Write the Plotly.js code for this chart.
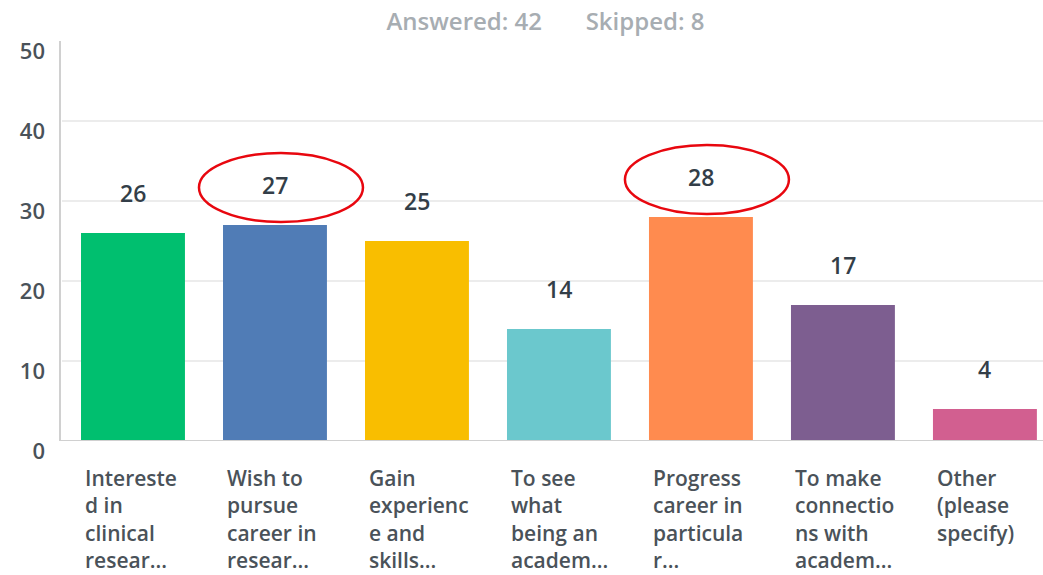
<!DOCTYPE html>
<html>
<head>
<meta charset="utf-8">
<script src="https://cdn.plot.ly/plotly-3.0.1.min.js"></script>
<style>html,body{margin:0;padding:0;background:#fff;}#chart{width:1043px;height:575px;}</style>
</head>
<body>
<div id="chart"></div>
<script>
const categories = [
  "Intereste<br>d in<br>clinical<br>resear...",
  "Wish to<br>pursue<br>career in<br>resear...",
  "Gain<br>experienc<br>e and<br>skills...",
  "To see<br>what<br>being an<br>academ...",
  "Progress<br>career in<br>particula<br>r...",
  "To make<br>connectio<br>ns with<br>academ...",
  "Other<br>(please<br>specify)"
];
const values = [26, 27, 25, 14, 28, 17, 4];
const colors = ["#00BF6F", "#507CB6", "#F9BE00", "#6BC8CD", "#FF8B4F", "#7D5E90", "#D25F90"];
const yTicks = [0, 10, 20, 30, 40, 50];
const gridVals = [10, 20, 30, 40];
const highlighted = [1, 4];
const titleText = "Answered: 42&nbsp;&nbsp;&nbsp;&nbsp;&nbsp;&nbsp;&nbsp;Skipped: 8";

const xIdx = categories.map((_, i) => i);
const FONT = "Open Sans, sans-serif";

const trace = {
  type: "bar",
  x: xIdx,
  y: values,
  marker: {color: colors},
  width: 0.732,
  hoverinfo: "skip"
};

const annotations = [];
values.forEach((v, i) => {
  annotations.push({
    x: i, y: v, xref: "x", yref: "y",
    text: String(v), showarrow: false,
    yanchor: "middle", yshift: 40,
    font: {family: FONT, size: 23, color: "#333E48", weight: 600}
  });
});
categories.forEach((c, i) => {
  annotations.push({
    x: i, y: 0, xref: "x", yref: "y",
    text: c, showarrow: false, align: "left",
    xanchor: "left", yanchor: "top", xshift: -50, yshift: -21,
    font: {family: FONT, size: 21, color: "#4A5259", weight: 600}
  });
});

const shapes = [];
gridVals.forEach(g => {
  shapes.push({type: "line", xref: "paper", yref: "y", x0: 0.002, x1: 1, y0: g, y1: g,
    line: {color: "#E6E6E6", width: 1.5}, layer: "below"});
});
shapes.push({type: "line", xref: "paper", yref: "y", x0: 0, x1: 1, y0: 0, y1: 0,
  line: {color: "#D0D0D0", width: 2}, layer: "above"});
shapes.push({type: "line", xref: "paper", yref: "paper", x0: 0, x1: 0, y0: 0, y1: 1,
  line: {color: "#D0D0D0", width: 2}, layer: "above"});
highlighted.forEach(i => {
  shapes.push({type: "circle", xref: "x", yref: "y",
    xsizemode: "pixel", ysizemode: "pixel", xanchor: i, yanchor: values[i],
    x0: -76, x1: 88, y0: 3, y1: 72,
    line: {color: "#E8070F", width: 2.5}, fillcolor: "rgba(0,0,0,0)"});
});

const layout = {
  width: 1043, height: 575,
  margin: {l: 60, r: 0, t: 41, b: 134},
  paper_bgcolor: "#fff", plot_bgcolor: "#fff",
  showlegend: false,
  title: {text: titleText, x: 0.523, xanchor: "center", y: 0.962, yanchor: "middle",
    font: {family: FONT, size: 24, color: "#A7ADB2", weight: 600}},
  xaxis: {range: [-0.514, 6.409], showticklabels: false, showgrid: false, zeroline: false,
    showline: false, ticks: "", fixedrange: true},
  yaxis: {range: [0, 50], tickvals: yTicks, ticktext: yTicks.map(String),
    showgrid: false, zeroline: false, showline: false, ticks: "",
    ticklabelstandoff: 14, ticklabelshift: 10,
    tickfont: {family: FONT, size: 22, color: "#4A5259", weight: 600}, fixedrange: true},
  annotations: annotations,
  shapes: shapes
};

Plotly.newPlot("chart", [trace], layout, {displayModeBar: false, staticPlot: true});
</script>
</body>
</html>
